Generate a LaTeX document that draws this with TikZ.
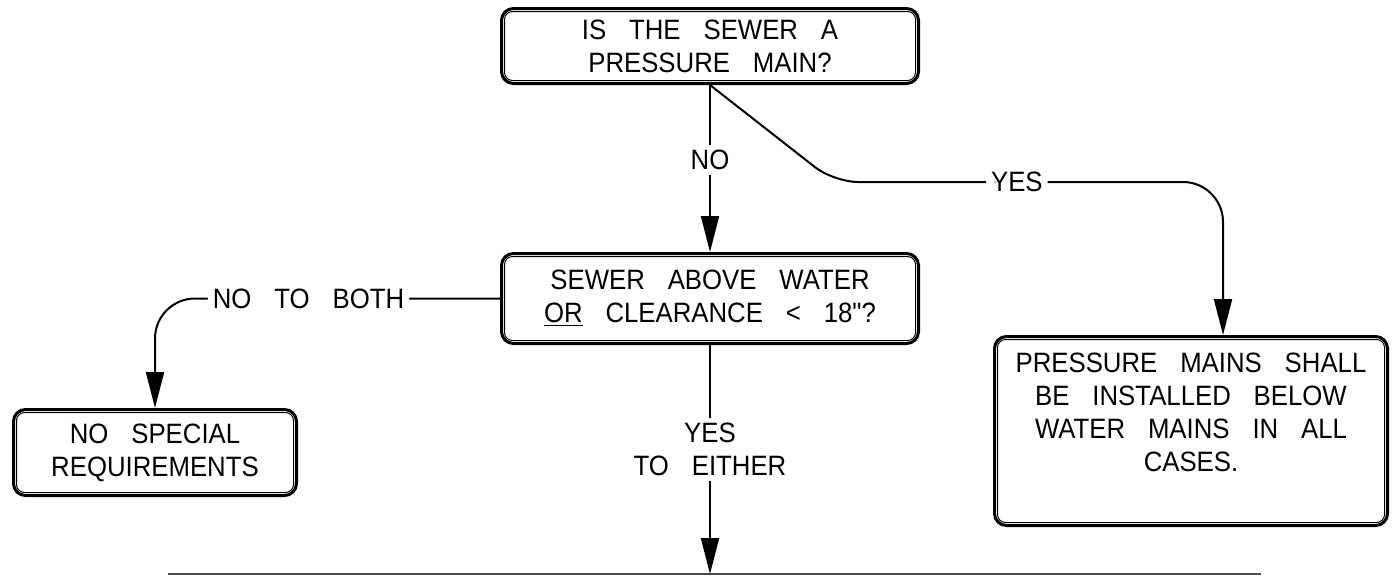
\documentclass[tikz,border=0pt]{standalone}
\usepackage{fontspec}
\newfontfamily\cadfont{Liberation Sans}[FakeStretch=0.92, WordSpace=3.2]
\usetikzlibrary{arrows.meta}
\begin{document}
\begin{tikzpicture}[
    x=0.5pt, y=-0.5pt,
    txt/.style={font={\cadfont\fontsize{14}{16.5}\selectfont}, align=center},
    dbox/.style={txt, draw=black, line width=1.5pt, rounded corners=6pt, inner sep=0pt},
    inbox/.style={draw=black, line width=0.5pt, rounded corners=4pt},
    conn/.style={-{Triangle[length=18pt, width=9pt]}, line width=1pt},
    lbl/.style={txt, fill=white, inner sep=2.5pt},
    btm/.style={line width=1pt, black!70}
]
\useasboundingbox (0,0) rectangle (1395,575);

\node[dbox, minimum width=208.5pt, minimum height=37.5pt] (sewer) at (710,46) {IS THE SEWER A\\PRESSURE MAIN?};
\node[dbox, minimum width=208.5pt, minimum height=45pt] (above) at (710,298.5) {SEWER ABOVE WATER\\\underline{OR} CLEARANCE < 18"?};
\node[dbox, minimum width=141.5pt, minimum height=43pt] (nospec) at (155,452.5) {NO SPECIAL\\REQUIREMENTS};
\node[dbox, minimum width=196.5pt, minimum height=94.5pt] (press) at (1191,431) {PRESSURE MAINS SHALL\\BE INSTALLED BELOW\\WATER MAINS IN ALL\\CASES.\\[2pt]\mbox{}};

% inner borders
\foreach \n in {sewer, above, nospec, press}
    \draw[inbox] ([shift={(4.5,4.5)}]\n.north west) rectangle ([shift={(-4.5,-4.5)}]\n.south east);

\coordinate (btmL) at (168,574);
\coordinate (btmR) at (1261,574);
\coordinate (bend) at (834,182);
\coordinate (drop) at (1223,182);

\draw[conn] (sewer.south) -- node[lbl, pos=0.45] {NO} (above.north);
\draw[conn] (sewer.south) [rounded corners=12pt] -- (bend) [rounded corners=20pt] -- node[lbl, pos=0.47] {YES} (drop) -- (press.north -| drop);
\draw[conn, rounded corners=20pt] (above.west) -- node[lbl, pos=0.555] {NO TO BOTH} (nospec.north |- above.west) -- (nospec.north);
\draw[conn] (above.south) -- node[lbl, pos=0.455] {YES\\TO EITHER} (above.south |- btmL);

\draw[btm] (btmL) -- (btmR);
\end{tikzpicture}
\end{document}
